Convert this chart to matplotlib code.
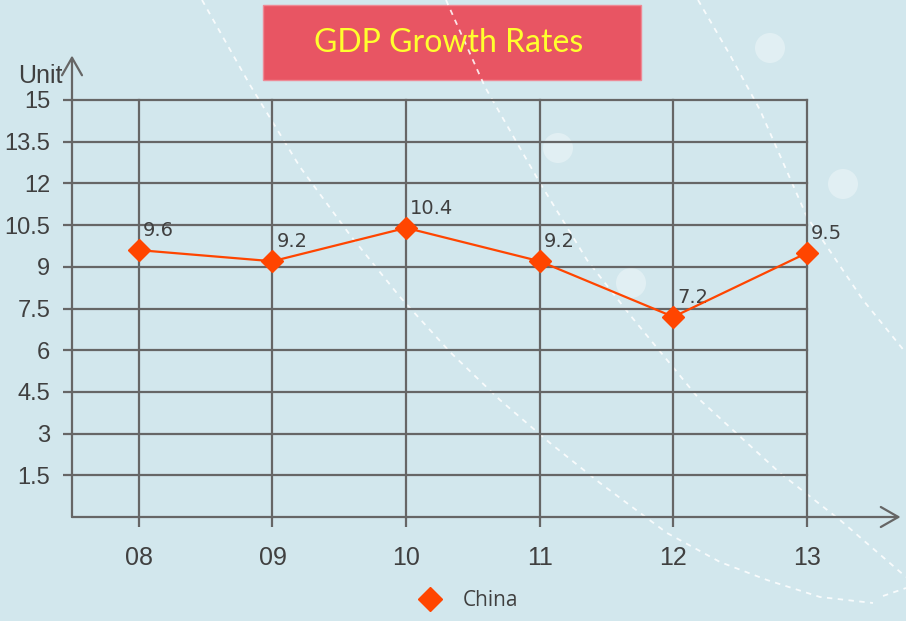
import matplotlib
matplotlib.use("Agg")
import matplotlib.pyplot as plt
from matplotlib.patches import Rectangle, Circle
from matplotlib.lines import Line2D
import numpy as np

# data
years = ["08", "09", "10", "11", "12", "13"]
china = [9.6, 9.2, 10.4, 9.2, 7.2, 9.5]
y_ticks = [1.5, 3, 4.5, 6, 7.5, 9, 10.5, 12, 13.5, 15]
y_labels = ["1.5", "3", "4.5", "6", "7.5", "9", "10.5", "12", "13.5", "15"]

bg_color = "#D2E7ED"
grid_color = "#666666"
text_color = "#404040"
line_color = "#FF4500"

fig = plt.figure(figsize=(9.06, 6.21), dpi=100)
fig.patch.set_facecolor(bg_color)

# background decoration layer, pixel coordinates
bg = fig.add_axes([0, 0, 1, 1], zorder=0)
bg.set_xlim(0, 906)
bg.set_ylim(621, 0)
bg.axis("off")

curve_a = [(202, 0), (250, 85), (300, 167), (350, 235), (400, 297), (450, 352),
           (500, 400), (550, 443), (600, 483), (667, 533), (720, 562), (767, 580),
           (820, 597), (873, 603)]
curve_b = [(446, 0), (485, 87), (540, 183), (587, 260), (630, 315), (700, 400),
           (780, 473), (840, 520), (906, 577)]
curve_c = [(698, 0), (730, 55), (760, 110), (807, 217), (863, 300), (906, 353)]
for pts in (curve_a, curve_b, curve_c):
    xs, ys = zip(*pts)
    bg.plot(xs, ys, color="white", lw=1.3, ls=(0, (3, 3)), alpha=0.85)
bg.plot([883, 906], [596, 588], color="white", lw=1.3, ls=(0, (3, 3)), alpha=0.85)

for cx, cy in [(770, 48), (558, 148), (843, 184), (631, 283)]:
    bg.add_patch(Circle((cx, cy), 15, color="white", alpha=0.35, lw=0))

# title box
bg.add_patch(Rectangle((263, 5), 378, 75, facecolor="#E85563",
                       edgecolor="#EE8A96", lw=1))
bg.text(449, 43, "GDP Growth Rates", color="#FFFF2E", fontsize=23,
        family="Lato", ha="center", va="center")

# main chart
ax = fig.add_axes([72 / 906, 104 / 621, 735 / 906, 417 / 621], zorder=2)
ax.patch.set_alpha(0)
ax.set_xlim(-0.5, 5)
ax.set_ylim(0, 15)
x = np.arange(len(years))

for s in ax.spines.values():
    s.set_visible(False)

ax.set_xticks(x)
ax.set_xticklabels(years)
ax.set_yticks(y_ticks)
ax.set_yticklabels(y_labels)
ax.tick_params(axis="y", length=6.5, width=1.6, color=grid_color, pad=9,
               labelsize=17, labelcolor=text_color)
ax.tick_params(axis="x", length=7, width=1.6, color=grid_color, pad=14,
               labelsize=18, labelcolor=text_color)
for lab in ax.get_xticklabels() + ax.get_yticklabels():
    lab.set_family("Liberation Sans")

ax.grid(True, color=grid_color, lw=1.6)
for gl in ax.get_xgridlines() + ax.get_ygridlines():
    gl.set_clip_on(False)

# axis arrows
arrow_kw = dict(arrowstyle="->,head_length=0.7,head_width=0.4", color=grid_color,
                lw=1.6, shrinkA=0, shrinkB=0, mutation_scale=18)
ax.annotate("", xy=(-0.5, 16.6), xytext=(-0.5, 0), arrowprops=arrow_kw,
            annotation_clip=False)
ax.annotate("", xy=(5.7, 0), xytext=(-0.5, 0), arrowprops=arrow_kw,
            annotation_clip=False)

fig.text(62 / 906, 1 - 83 / 621, "Unit", ha="right", va="baseline",
         fontsize=18, color=text_color, family="Liberation Sans")

ax.plot(x, china, color=line_color, lw=1.6, marker="D", markersize=11.5,
        zorder=5, clip_on=False)
for xi, v in zip(x, china):
    ax.annotate(f"{v}", (xi, v), xytext=(3, 10), textcoords="offset points",
                ha="left", va="baseline", fontsize=14, color=text_color,
                family="DejaVu Sans")

handle = Line2D([], [], color=line_color, marker="D", markersize=12, ls="none")
leg = fig.legend([handle], ["China"], loc="center",
                 bbox_to_anchor=(468 / 906, 1 - 601 / 621), frameon=False,
                 handlelength=1.2, handletextpad=1.0,
                 prop={"family": "Open Sans", "size": 15})
for t in leg.get_texts():
    t.set_color(text_color)

fig.savefig("out.png", dpi=100, facecolor=fig.get_facecolor())
